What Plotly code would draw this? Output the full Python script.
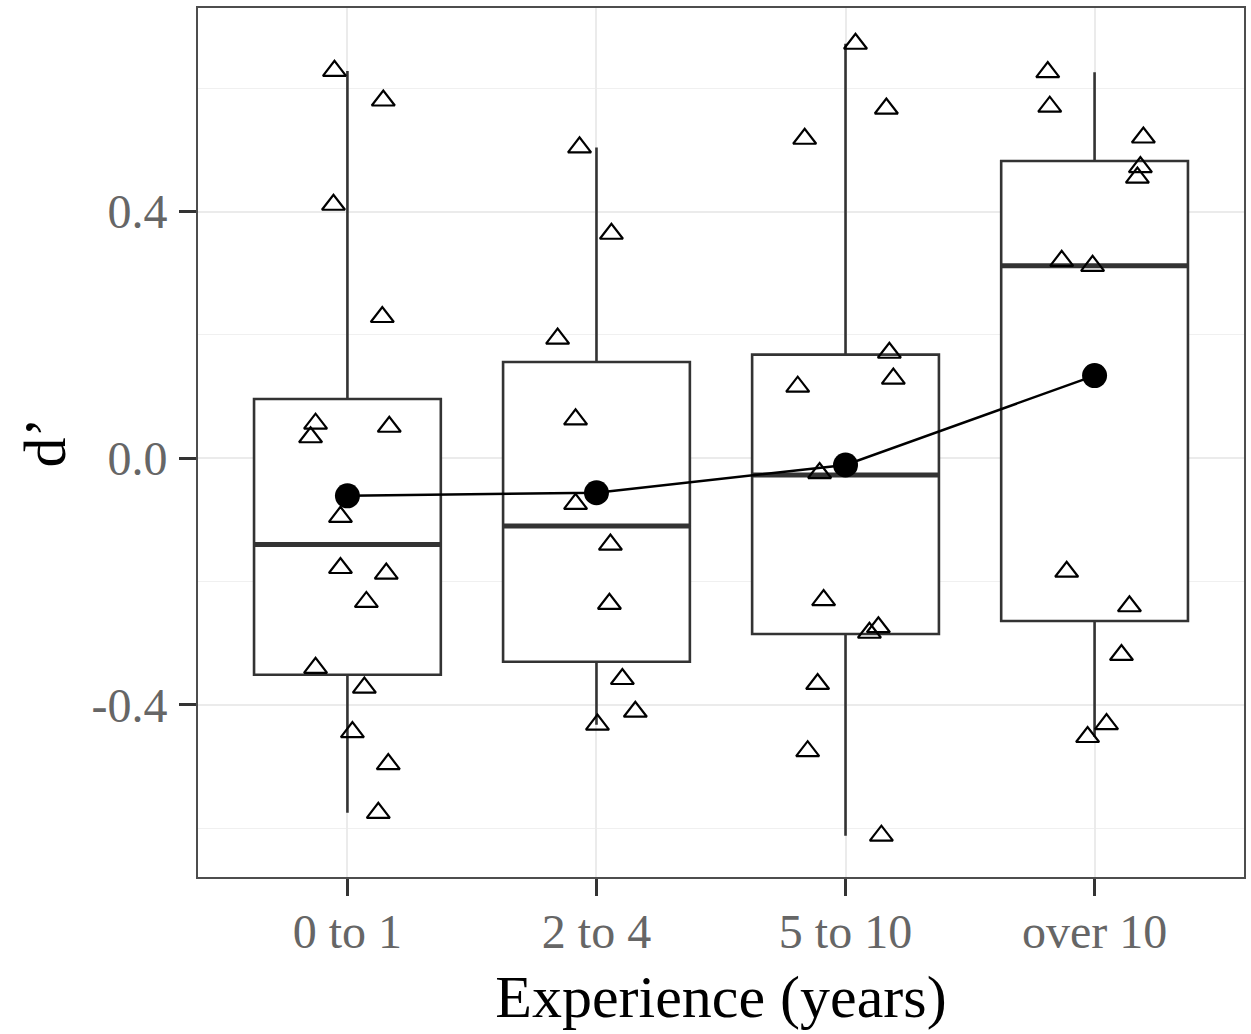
import plotly.graph_objects as go

categories = ["0 to 1", "2 to 4", "5 to 10", "over 10"]

# box statistics
q1 = [-0.351, -0.330, -0.285, -0.264]
median = [-0.140, -0.110, -0.027, 0.312]
q3 = [0.096, 0.156, 0.168, 0.482]
lowerfence = [-0.575, -0.432, -0.612, -0.452]
upperfence = [0.628, 0.504, 0.672, 0.626]
means = [-0.061, -0.056, -0.011, 0.134]

# individual observations: jitter offset and value per group
g1_jitter = [-0.052, 0.144, -0.056, 0.140, -0.128, -0.148, 0.168, -0.028, -0.028, 0.156, 0.076, -0.128, 0.068, 0.020, 0.164, 0.124]
g1_vals = [0.628, 0.580, 0.411, 0.229, 0.056, 0.034, 0.051, -0.095, -0.178, -0.187, -0.233, -0.340, -0.372, -0.444, -0.496, -0.575]
g2_jitter = [-0.068, 0.060, -0.156, -0.084, -0.084, 0.056, 0.052, 0.104, 0.156, 0.004]
g2_vals = [0.504, 0.364, 0.194, 0.063, -0.074, -0.140, -0.236, -0.358, -0.411, -0.432]
g3_jitter = [0.040, -0.164, 0.164, 0.176, 0.192, -0.192, -0.104, -0.088, 0.132, 0.096, -0.112, -0.152, 0.144]
g3_vals = [0.672, 0.518, 0.567, 0.171, 0.129, 0.116, -0.024, -0.230, -0.274, -0.283, -0.366, -0.475, -0.612]
g4_jitter = [-0.188, -0.180, 0.196, 0.184, 0.172, -0.132, -0.008, -0.112, 0.140, 0.108, 0.048, -0.028]
g4_vals = [0.626, 0.570, 0.520, 0.472, 0.455, 0.320, 0.312, -0.184, -0.240, -0.319, -0.431, -0.452]

y_ticks = [-0.4, 0.0, 0.4]
y_tick_text = ["-0.4", "0.0", "0.4"]
y_minor = [-0.6, -0.2, 0.2, 0.6]

BOX_W = 0.75
FONT = "Liberation Serif"
DARK = "#333333"

fig = go.Figure()

pos = list(range(len(categories)))
fig.add_trace(go.Box(
    x=pos, q1=q1, median=median, q3=q3,
    lowerfence=lowerfence, upperfence=upperfence,
    width=BOX_W, whiskerwidth=0, boxpoints=False,
    fillcolor="white", line=dict(color=DARK, width=2.6),
    showlegend=False, hoverinfo="skip",
))

# thicker median lines (ggplot fatten)
for i, m in enumerate(median):
    fig.add_trace(go.Scatter(
        x=[i - BOX_W / 2, i + BOX_W / 2], y=[m, m], mode="lines",
        line=dict(color=DARK, width=5), showlegend=False, hoverinfo="skip",
    ))

groups = [(g1_jitter, g1_vals), (g2_jitter, g2_vals), (g3_jitter, g3_vals), (g4_jitter, g4_vals)]
for i, (jit, vals) in enumerate(groups):
    fig.add_trace(go.Scatter(
        x=[i + j for j in jit], y=vals, mode="markers",
        marker=dict(symbol="triangle-up-open", size=20, color="black",
                    line=dict(color="black", width=2.2)),
        showlegend=False, hoverinfo="skip",
    ))

fig.add_trace(go.Scatter(
    x=pos, y=means, mode="lines+markers",
    line=dict(color="black", width=2.5),
    marker=dict(symbol="circle", size=25, color="black"),
    showlegend=False, hoverinfo="skip",
))

fig.update_layout(
    width=1251, height=1034,
    margin=dict(l=198, r=7, t=8, b=157, autoexpand=False),
    paper_bgcolor="white", plot_bgcolor="white",
    font=dict(family=FONT, color="black"),
    xaxis=dict(
        automargin=False,
        range=[-0.6, 3.6], tickvals=pos, ticktext=categories,
        showgrid=True, gridcolor="#ebebeb", gridwidth=2,
        ticks="outside", ticklen=17, tickwidth=3, tickcolor=DARK,
        ticklabelstandoff=-6,
        tickfont=dict(family=FONT, size=48, color="#666666"),
        showline=True, mirror=True, linecolor="#4d4d4d", linewidth=2,
        zeroline=False,
        title=dict(text="Experience (years)", font=dict(family=FONT, size=60, color="black"), standoff=18),
    ),
    yaxis=dict(
        automargin=False,
        range=[-0.679, 0.730], tickvals=y_ticks, ticktext=y_tick_text,
        showgrid=True, gridcolor="#ebebeb", gridwidth=2,
        minor=dict(tickvals=y_minor, showgrid=True, gridcolor="#f0f0f0", gridwidth=1, ticks=""),
        ticks="outside", ticklen=17, tickwidth=3, tickcolor=DARK,
        ticklabelstandoff=2,
        tickfont=dict(family=FONT, size=48, color="#666666"),
        showline=True, mirror=True, linecolor="#4d4d4d", linewidth=2,
        zeroline=False,
        title=dict(text="d’", font=dict(family=FONT, size=60, color="black"), standoff=6),
    ),
)

# remove the default page margin so the 1251x1034 figure fills the window exactly
fig.write_html(
    "out.html",
    config={"displayModeBar": False},
    post_script="document.body.style.margin='0';document.body.style.overflow='hidden';",
)
